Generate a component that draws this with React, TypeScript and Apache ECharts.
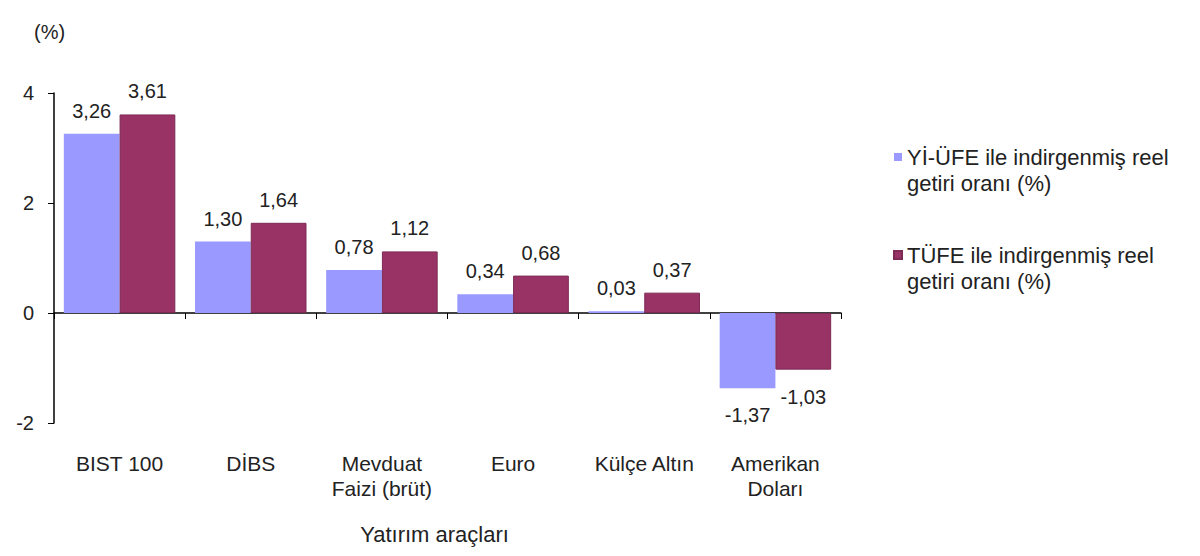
import React, { useEffect, useRef } from "react";
import * as echarts from "echarts";

const categories = ["BIST 100", "DİBS", "Mevduat\nFaizi (brüt)", "Euro", "Külçe Altın", "Amerikan\nDoları"];
const yiUfeValues = [3.26, 1.3, 0.78, 0.34, 0.03, -1.37];
const tufeValues = [3.61, 1.64, 1.12, 0.68, 0.37, -1.03];
const seriesNames = ["Yİ-ÜFE ile indirgenmiş reel\ngetiri oranı (%)", "TÜFE ile indirgenmiş reel\ngetiri oranı (%)"];
const seriesColors = ["#9999FF", "#993366"];
const yTicks = { min: -2, max: 4, interval: 2 };

const FONT = "'Liberation Sans', Arial, sans-serif";

function toData(values: number[]) {
  return values.map((v) => ({
    value: v,
    label: v < 0 ? { position: "bottom", distance: 17 } : { position: "top", distance: 13 },
  }));
}

export default function App() {
  const ref = useRef<HTMLDivElement>(null);
  useEffect(() => {
    if (!ref.current) return;
    const chart = echarts.init(ref.current, undefined, { renderer: "svg" });
    const labelStyle = {
      show: true,
      fontFamily: FONT,
      fontSize: 20,
      color: "#222",
      formatter: (p: any) => Number(p.value).toFixed(2).replace(".", ","),
    };
    chart.setOption({
      animation: false,
      backgroundColor: "#fff",
      textStyle: { fontFamily: FONT },
      grid: { left: 54, top: 93, width: 787, height: 330, containLabel: false },
      legend: {
        orient: "vertical",
        left: 893,
        top: 118,
        padding: 0,
        itemWidth: 8,
        itemHeight: 8,
        itemGap: 20,
        icon: "rect",
        formatter: (name: string) => " \n" + name,
        textStyle: {
          fontFamily: FONT,
          fontSize: 22,
          color: "#222",
          lineHeight: 26,
        },
        data: seriesNames,
      },
      graphic: [
        {
          type: "text",
          left: 34,
          top: 22,
          style: { text: "(%)", fontFamily: FONT, fontSize: 20, fill: "#222" },
        },
      ],
      xAxis: [
        {
          type: "category",
          data: categories,
          axisLine: { onZero: true, lineStyle: { color: "#000", width: 1.5 } },
          axisTick: { show: true, length: 6, lineStyle: { color: "#000" } },
          axisLabel: { show: false },
          splitLine: { show: false },
        },
        {
          type: "category",
          data: categories,
          position: "bottom",
          axisLine: { show: false, onZero: false },
          axisTick: { show: false },
          axisLabel: {
            show: true,
            interval: 0,
            margin: 28,
            fontFamily: FONT,
            fontSize: 21,
            lineHeight: 25,
            color: "#222",
          },
          name: "Yatırım araçları",
          nameLocation: "middle",
          nameGap: 100,
          nameTextStyle: { fontFamily: FONT, fontSize: 22, color: "#222", padding: [0, 26, 0, 0] },
        },
      ],
      yAxis: {
        type: "value",
        min: yTicks.min,
        max: yTicks.max,
        interval: yTicks.interval,
        axisLine: { show: true, lineStyle: { color: "#000", width: 1.5 } },
        axisTick: { show: true, length: 6, lineStyle: { color: "#000" } },
        axisLabel: {
          margin: 20,
          fontFamily: FONT,
          fontSize: 20,
          color: "#222",
          formatter: (v: number) => String(v),
        },
        splitLine: { show: false },
      },
      series: [
        {
          name: seriesNames[0],
          type: "bar",
          xAxisIndex: 0,
          data: toData(yiUfeValues),
          barGap: "0%",
          barCategoryGap: "15%",
          itemStyle: { color: seriesColors[0] },
          label: labelStyle,
        },
        {
          name: seriesNames[1],
          type: "bar",
          xAxisIndex: 0,
          data: toData(tufeValues),
          barGap: "0%",
          barCategoryGap: "15%",
          itemStyle: { color: seriesColors[1], borderColor: "#7d2a55", borderWidth: 1 },
          label: labelStyle,
        },
      ],
    });
    return () => chart.dispose();
  }, []);
  return <div ref={ref} style={{ width: 1200, height: 556, margin: -8 }} />;
}
